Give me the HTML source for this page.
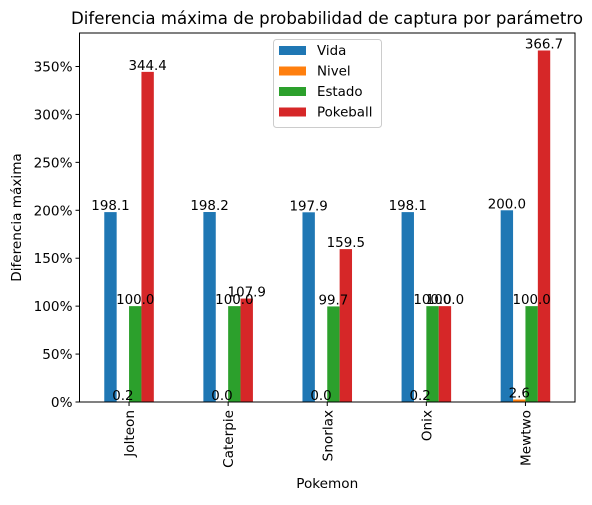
<!DOCTYPE html>
<html><head><meta charset="utf-8"><style>
body{margin:0;background:#fff;font-family:"DejaVu Sans","Liberation Sans",sans-serif;}
svg text{font-family:"DejaVu Sans","Liberation Sans",sans-serif;}
</style></head><body>
<svg id="c" width="592" height="501" xmlns="http://www.w3.org/2000/svg">
<rect width="592" height="501" fill="#fff"/>
<text x="327" y="24" font-size="16.6" text-anchor="middle">Diferencia máxima de probabilidad de captura por parámetro</text>
<g id="plot"></g>
</svg>
<script>
const categories=["Jolteon","Caterpie","Snorlax","Onix","Mewtwo"];
const seriesNames=["Vida","Nivel","Estado","Pokeball"];
const vida=[198.1,198.2,197.9,198.1,200.0];
const nivel=[0.2,0.0,0.0,0.2,2.6];
const estado=[100.0,100.0,99.7,100.0,100.0];
const pokeball=[344.4,107.9,159.5,100.0,366.7];
const yTicks=[0,50,100,150,200,250,300,350];
const colors=["#1f77b4","#ff7f0e","#2ca02c","#d62728"];
const L=79.5,R=575,T=33,B=402;
const ns="http://www.w3.org/2000/svg";
const g=document.getElementById('plot');
function x(i){return L+(i+0.5)*(R-L)/categories.length;}
function y(v){return B-v*(B-66.5)/350;}
function mk(t,a,p){const e=document.createElementNS(ns,t);for(const k in a)e.setAttribute(k,a[k]);(p||g).appendChild(e);return e;}
const all=[vida,nivel,estado,pokeball];
const bw=(R-L)/categories.length*0.125;
all.forEach((s,si)=>{s.forEach((v,i)=>{
 const cx=x(i)+(si-1.5)*bw;
 const r=mk('rect',{x:cx-bw/2,y:y(v),width:bw,height:B-y(v),fill:colors[si]});
 
 
});});
all.forEach((s,si)=>{s.forEach((v,i)=>{
 const cx=x(i)+(si-1.5)*bw;
 const t=mk('text',{x:cx,y:y(v)-2,'font-size':13.4,'text-anchor':'middle'});
 t.textContent=v.toFixed(1);
 
 
});});
const ax=mk('rect',{x:L,y:T,width:R-L,height:B-T,fill:'none',stroke:'#000','stroke-width':1});


yTicks.forEach(v=>{
 mk('line',{x1:L-4,x2:L,y1:y(v),y2:y(v),stroke:'#000'});
 const t=mk('text',{x:L-7,y:y(v)+5,'font-size':13.6,'text-anchor':'end'});
 t.textContent=v+'%';
 
 
});
categories.forEach((c,i)=>{
 mk('line',{x1:x(i),x2:x(i),y1:B,y2:B+4,stroke:'#000'});
 const t=mk('text',{x:0,y:0,'font-size':13.6,'text-anchor':'end',transform:`translate(${x(i)+5},${B+8}) rotate(-90)`});
 t.textContent=c;
 
 
});
const xl=mk('text',{x:(L+R)/2,y:488,'font-size':13.6,'text-anchor':'middle'});xl.textContent='Pokemon';


const yl=mk('text',{x:0,y:0,'font-size':13.6,'text-anchor':'middle',transform:`translate(21,${(T+B)/2}) rotate(-90)`});yl.textContent='Diferencia máxima';


const lg=mk('g',{});


mk('rect',{x:273.5,y:39.5,width:108,height:88,rx:3,fill:'#fff','fill-opacity':0.8,stroke:'#ccc'},lg);
seriesNames.forEach((n,si)=>{
 const yy=50+si*20.5;
 mk('rect',{x:279,y:yy-4,width:27,height:9,fill:colors[si]},lg);
 const t=mk('text',{x:317,y:yy+5,'font-size':13.4},lg);t.textContent=n;
 
 
});
</script>
</body></html>
